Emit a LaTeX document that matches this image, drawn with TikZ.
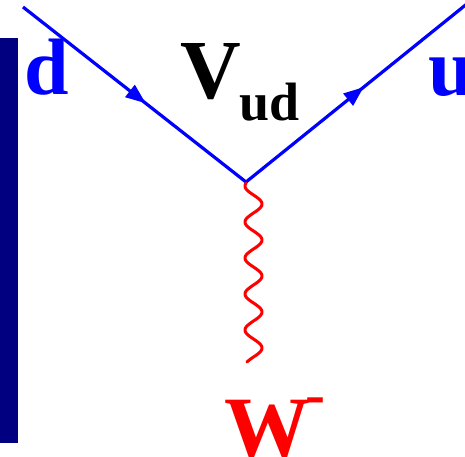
\documentclass[tikz,border=0pt]{standalone}
\usepackage{fontspec}
\setmainfont{Liberation Serif}
\usetikzlibrary{decorations.markings,arrows.meta}
\definecolor{fblue}{RGB}{0,0,255}
\definecolor{fred}{RGB}{255,0,0}
\definecolor{barnavy}{RGB}{0,0,128}
\begin{document}
\begin{tikzpicture}[x=1pt,y=-1pt,
  fermion/.style={draw=fblue,line width=3.2pt,
    postaction={decorate,decoration={markings,
      mark=at position #1 with {\arrow{Triangle[length=20pt,width=15pt]}}}}},
  lbl/.style={inner sep=0pt,anchor=base west,font=\bfseries}]
\clip (0,0) rectangle (465,456);
\fill[white] (0,0) rectangle (465,456);
\fill[barnavy] (0,38) rectangle (18,443);
\coordinate (vtx) at (246,182);
\coordinate (din) at (23,7);
\coordinate (uout) at (468,3);
\draw[fermion=0.55,fblue] (din) -- (vtx);
\draw[fermion=0.53,fblue] (vtx) -- (uout);
\draw[fred,line width=3pt,line cap=round,line join=round] plot[variable=\t,domain=-1:178,samples=180]
  ({253.5pt-8.5pt*cos(10*(\t-2))},{-184pt-\t pt});
\node[lbl,text=fblue,font=\bfseries\fontsize{80}{80}\selectfont] (d) at (24,94) {d};
\node[lbl,font=\bfseries\fontsize{84}{84}\selectfont] (V) at (180,98) {V};
\node[lbl,font=\bfseries\fontsize{54}{54}\selectfont] (ud) at (239,120) {ud};
\node[lbl,text=fblue,font=\bfseries\fontsize{82}{82}\selectfont] (u) at (428,95) {u};
\node[lbl,text=fred,font=\bfseries\fontsize{86}{86}\selectfont] (W) at (224,456) {W};
\node[lbl,text=fred,font=\bfseries\fontsize{60}{60}\selectfont] (m) at (305,414) {-};
\end{tikzpicture}
\end{document}
